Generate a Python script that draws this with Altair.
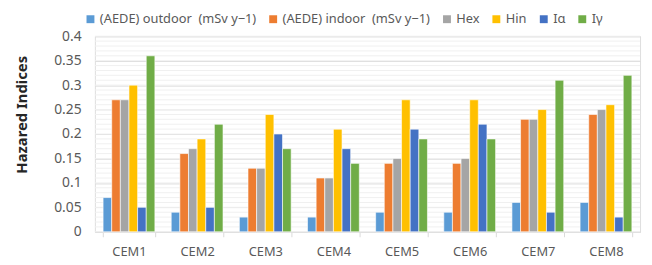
import altair as alt
import pandas as pd

categories = ["CEM1", "CEM2", "CEM3", "CEM4", "CEM5", "CEM6", "CEM7", "CEM8"]
series = ["(AEDE) outdoor\u00a0 (mSv y\u22121)", "(AEDE) indoor\u00a0 (mSv y\u22121)", "Hex", "Hin", "I\u03b1", "I\u03b3"]
colors = ["#5B9BD5", "#ED7D31", "#A5A5A5", "#FFC000", "#4472C4", "#70AD47"]

aede_out = [0.07, 0.04, 0.03, 0.03, 0.04, 0.04, 0.06, 0.06]
aede_in = [0.27, 0.16, 0.13, 0.11, 0.14, 0.14, 0.23, 0.24]
hex_ = [0.27, 0.17, 0.13, 0.11, 0.15, 0.15, 0.23, 0.25]
hin = [0.30, 0.19, 0.24, 0.21, 0.27, 0.27, 0.25, 0.26]
ialpha = [0.05, 0.05, 0.20, 0.17, 0.21, 0.22, 0.04, 0.03]
igamma = [0.36, 0.22, 0.17, 0.14, 0.19, 0.19, 0.31, 0.32]

major_ticks = [0, 0.05, 0.1, 0.15, 0.2, 0.25, 0.3, 0.35, 0.4]
minor_ticks = [round(i * 0.01, 2) for i in range(41)]

rows = []
for s, vals in zip(series, [aede_out, aede_in, hex_, hin, ialpha, igamma]):
    for c, v in zip(categories, vals):
        rows.append({"cat": c, "series": s, "value": v})
df = pd.DataFrame(rows)
minor_df = pd.DataFrame({"value": minor_ticks})

yscale = alt.Scale(domain=[0, 0.4], nice=False)
yaxis = alt.Axis(values=major_ticks, title="Hazared Indices",
                 titleFont="Noto Sans", titleFontSize=15, titleFontWeight="bold",
                 titleColor="#262626", titleX=-74, titleY=79,
                 titleBaseline="middle", titleAngle=270,
                 labelFont="Noto Sans", labelFontSize=14, labelColor="#595959",
                 labelPadding=14, ticks=False, domain=False,
                 gridColor="#d9d9d9", labelExpr="format(datum.value, '~g')")

minor = alt.Chart(minor_df).mark_rule(color="#f0f0f0", strokeWidth=1).encode(
    y=alt.Y("value:Q", scale=yscale, axis=yaxis)
)

bars = alt.Chart(df).mark_bar(stroke="white", strokeWidth=0.6).encode(
    x=alt.X("cat:N", sort=categories, title=None,
            scale=alt.Scale(paddingInner=0.24, paddingOuter=0.12),
            axis=alt.Axis(labelAngle=0, labelFont="Noto Sans", labelFontSize=13,
                          labelColor="#595959", tickBand="extent", ticks=True,
                          tickSize=5, tickColor="#d9d9d9", domainColor="#d9d9d9",
                          labelPadding=9)),
    xOffset=alt.XOffset("series:N", sort=series),
    y=alt.Y("value:Q", scale=yscale, axis=yaxis),
    color=alt.Color("series:N", sort=series,
                    scale=alt.Scale(domain=series, range=colors),
                    legend=alt.Legend(title=None, orient="none", direction="horizontal",
                                      legendX=-13, legendY=-26, symbolType="square",
                                      symbolSize=64, symbolStrokeWidth=0,
                                      labelFont="Noto Sans", labelFontSize=13,
                                      labelColor="#595959", columnPadding=10,
                                      labelOffset=3, columns=6, labelLimit=0,
                                      labelBaseline="middle", padding=2)),
)

chart = alt.layer(minor, bars).properties(
    width=552, height=198,
    autosize=alt.AutoSizeParams(type="none"),
    padding={"left": 88, "top": 27, "right": 4, "bottom": 30},
).configure_view(stroke=None).configure(background="white")

chart.save("out.html", embed_options={"renderer": "svg", "actions": False})
